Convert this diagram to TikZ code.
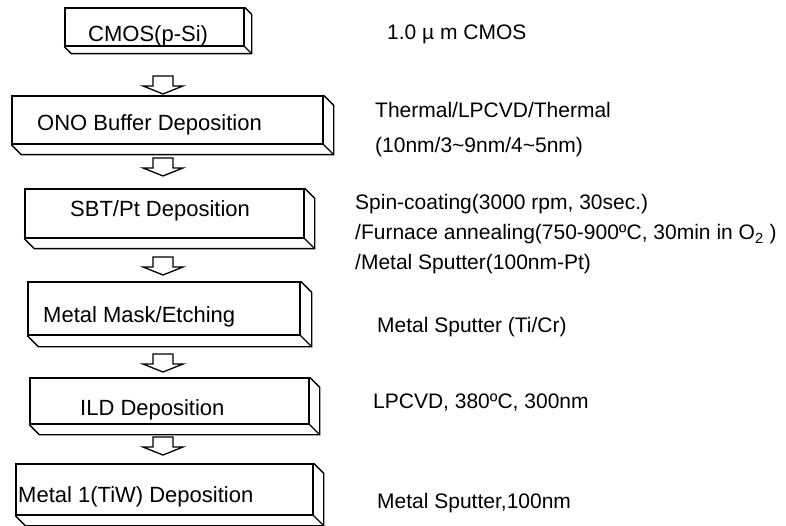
\documentclass[tikz,border=0pt]{standalone}
\usepackage{fontspec}
\setmainfont{Liberation Sans}
\usetikzlibrary{calc}

\begin{document}
\begin{tikzpicture}[x=1pt, y=-1pt,
  slab/.style={draw, line width=1.4pt, fill=white, inner sep=0pt},
  edge/.style={line width=1.4pt},
  steptext/.style={anchor=base west, inner sep=0pt, font=\fontsize{22}{26}\selectfont},
  note/.style={anchor=base west, inner sep=0pt, font=\fontsize{21}{25}\selectfont},
  downarrow/.pic={
    \draw[line width=1.3pt, fill=white] (-10,0) -- (10,0) -- (10,10) -- (20,10) -- (0,18) -- (-20,10) -- (-10,10) -- cycle;
  },
  ]
  \useasboundingbox (0,0) rectangle (786,526);

  % Process steps (front faces)
  \node[slab, minimum width=179pt, minimum height=38pt] (cmos) at (154.5,27) {};
  \node[slab, minimum width=311pt, minimum height=48pt] (ono) at (167.5,120) {};
  \node[slab, minimum width=279pt, minimum height=49pt] (sbt) at (164.5,213.5) {};
  \node[slab, minimum width=272pt, minimum height=53pt] (mask) at (164,308.5) {};
  \node[slab, minimum width=279pt, minimum height=46pt] (ild) at (169.5,401) {};
  \node[slab, minimum width=297pt, minimum height=51pt] (metal) at (164.5,489.5) {};

  % Depth of each slab
  \foreach \n/\d in {cmos/7, ono/10, sbt/10, mask/11, ild/10, metal/10} {
    \draw[edge] (\n.north east) -- ++(\d,\d) -- ($(\n.south east)+(\d,\d)$)
      -- ($(\n.south west)+(\d,\d)$) -- (\n.south west);
    \draw[edge] (\n.south east) -- ++(\d,\d);
  }

  % Step names
  \node[steptext] (cmoslbl) at (88,42) {CMOS(p-Si)};
  \node[steptext] (onolbl) at (37,131) {ONO Buffer Deposition};
  \node[steptext] (sbtlbl) at (70,217) {SBT/Pt Deposition};
  \node[steptext] (masklbl) at (43,322) {Metal Mask/Etching};
  \node[steptext] (ildlbl) at (80,415) {ILD Deposition};
  \node[steptext] (metallbl) at (18,502) {Metal 1(TiW) Deposition};

  % Block arrows between steps
  \foreach \y [count=\i] in {76,158,257,354,437}
    \pic (arr\i) at (163,\y) {downarrow};

  % Process conditions
  \node[note] (cmosnote) at (387,40) {1.0 µ m CMOS};
  \node[note] (ononote) at (375,118) {Thermal/LPCVD/Thermal};
  \node[note] (ononote2) at (375,153) {(10nm/3\textasciitilde 9nm/4\textasciitilde 5nm)};
  \node[note] (sbtnote) at (355,210) {Spin-coating(3000 rpm, 30sec.)};
  \node[note] (sbtnote2) at (355,240) {/Furnace annealing(750-900ºC, 30min in O\textsubscript{2} )};
  \node[note] (sbtnote3) at (355,270) {/Metal Sputter(100nm-Pt)};
  \node[note] (masknote) at (377,332) {Metal Sputter (Ti/Cr)};
  \node[note] (ildnote) at (373,408) {LPCVD, 380ºC, 300nm};
  \node[note] (metalnote) at (377,508) {Metal Sputter,100nm};
\end{tikzpicture}
\end{document}
